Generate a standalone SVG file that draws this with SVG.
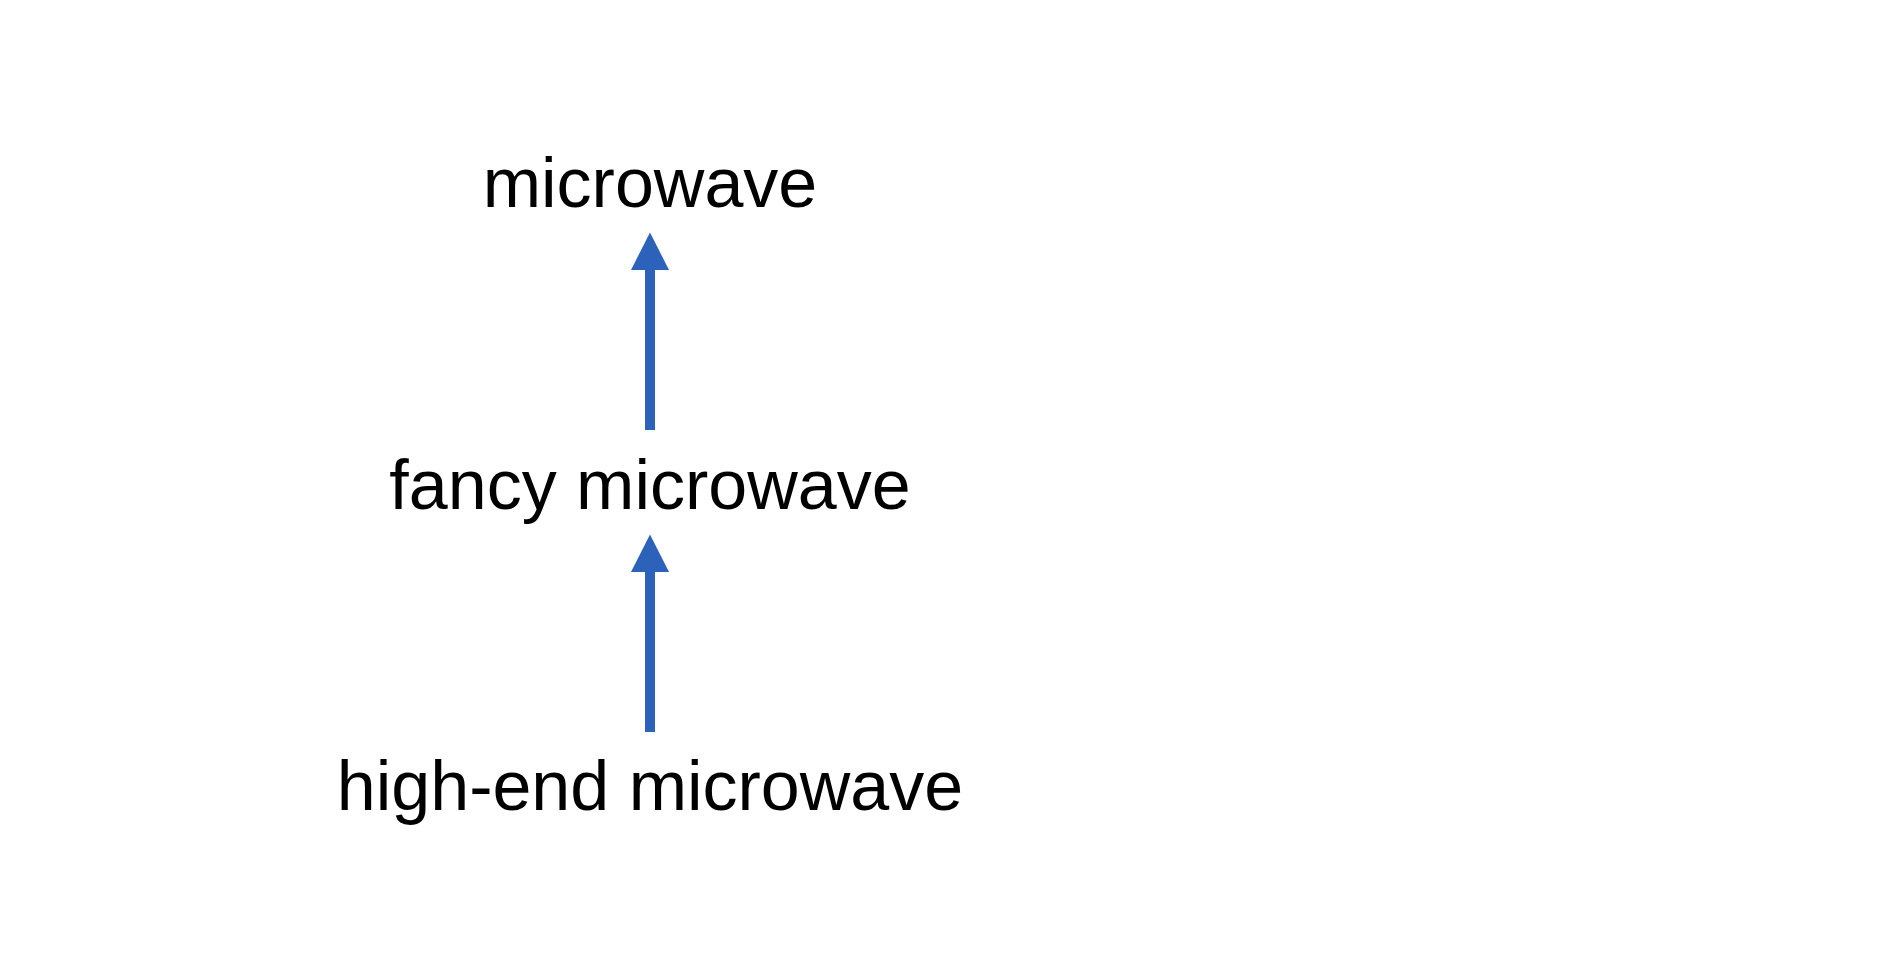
<svg xmlns="http://www.w3.org/2000/svg" width="1900" height="970" viewBox="0 0 1900 970">
  <style>
    .label { font-family: "Liberation Sans", Arial, Helvetica, sans-serif; font-size: 70px; fill: #000000; text-anchor: middle; }
    .conn { stroke: #2C62B9; stroke-width: 10; fill: none; }
  </style>
  <defs>
    <marker id="head" markerUnits="userSpaceOnUse" markerWidth="38" markerHeight="38" viewBox="0 0 37.5 38" refX="0" refY="19" orient="auto">
      <path d="M0,0 L37.5,19 L0,38 Z" fill="#2C62B9"/>
    </marker>
  </defs>
  <rect x="0" y="0" width="1900" height="970" fill="#ffffff"/>
  <g id="node-microwave">
    <text class="label" x="650" y="207">microwave</text>
  </g>
  <g id="node-fancy-microwave">
    <text class="label" x="650" y="508.5">fancy microwave</text>
  </g>
  <g id="node-high-end-microwave">
    <text class="label" x="650" y="810">high-end microwave</text>
  </g>
  <g id="connectors">
    <line class="conn" x1="650" y1="430" x2="650" y2="270" marker-end="url(#head)"/>
    <line class="conn" x1="650" y1="732" x2="650" y2="572" marker-end="url(#head)"/>
  </g>
</svg>
